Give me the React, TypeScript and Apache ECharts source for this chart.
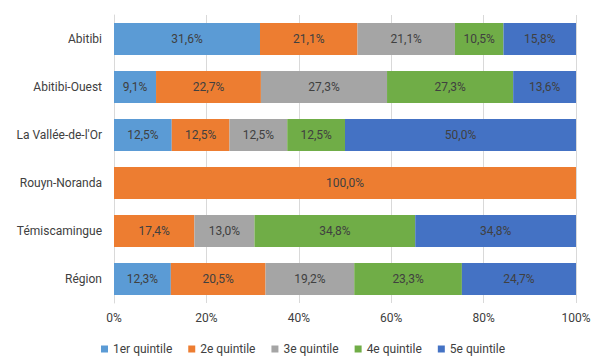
import React, { useEffect, useRef } from "react";
import * as echarts from "echarts";

const categories = ["Abitibi", "Abitibi-Ouest", "La Vallée-de-l'Or", "Rouyn-Noranda", "Témiscamingue", "Région"];
const seriesNames = ["1er quintile", "2e quintile", "3e quintile", "4e quintile", "5e quintile"];
const q1 = [31.6, 9.1, 12.5, 0, 0, 12.3];
const q2 = [21.1, 22.7, 12.5, 100.0, 17.4, 20.5];
const q3 = [21.1, 27.3, 12.5, 0, 13.0, 19.2];
const q4 = [10.5, 27.3, 12.5, 0, 34.8, 23.3];
const q5 = [15.8, 13.6, 50.0, 0, 34.8, 24.7];
const colors = ["#5B9BD5", "#ED7D31", "#A5A5A5", "#70AD47", "#4472C4"];

const FONT = "Roboto";
const FS = 12;

export default function App() {
  const ref = useRef<HTMLDivElement>(null);
  useEffect(() => {
    if (!ref.current) return;
    const chart = echarts.init(ref.current, null, { renderer: "svg" });
    const data = [q1, q2, q3, q4, q5];
    chart.setOption({
      animation: false,
      textStyle: { fontFamily: FONT },
      grid: { left: 114, right: 30, top: 15, height: 288 },
      legend: {
        top: 338,
        left: "center",
        itemWidth: 7,
        itemHeight: 7,
        itemGap: 16,
        icon: "rect",
        textStyle: { fontFamily: FONT, fontSize: FS, color: "#404040" },
        data: seriesNames,
      },
      xAxis: {
        type: "value",
        min: 0,
        max: 100,
        interval: 20,
        axisLabel: { formatter: "{value}%", color: "#404040", fontSize: FS, fontFamily: FONT, margin: 9 },
        splitLine: { lineStyle: { color: "#D9D9D9" } },
        axisLine: { show: false },
        axisTick: { show: false },
      },
      yAxis: {
        type: "category",
        inverse: true,
        data: categories,
        axisLine: { show: true, lineStyle: { color: "#D9D9D9" } },
        axisTick: { show: false },
        axisLabel: { color: "#404040", fontSize: FS, fontFamily: FONT, margin: 12 },
      },
      series: seriesNames.map((name, i) => ({
        name,
        type: "bar",
        stack: "total",
        barWidth: 32,
        itemStyle: { color: colors[i] },
        label: {
          show: true,
          position: "inside",
          color: "#404040",
          fontSize: FS,
          fontFamily: FONT,
          formatter: (p: any) => (p.value > 0 ? p.value.toFixed(1).replace(".", ",") + "%" : ""),
        },
        data: data[i],
      })),
    });
    return () => chart.dispose();
  }, []);
  return <div ref={ref} style={{ position: "absolute", left: 0, top: 0, width: 606, height: 364 }} />;
}
